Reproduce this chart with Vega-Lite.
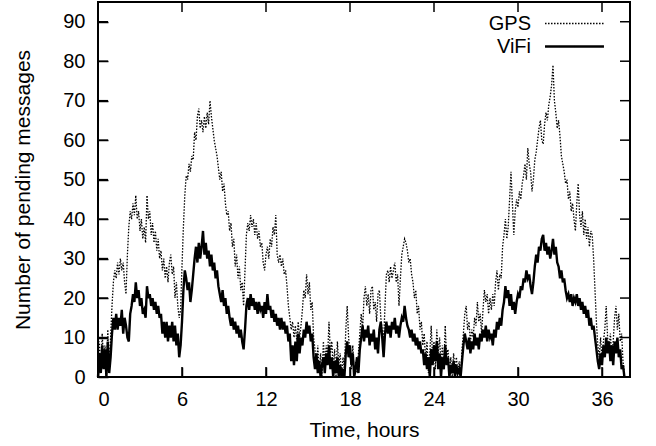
{
"$schema":"https://vega.github.io/schema/vega-lite/v6.json",
"width":532,"height":375,
"autosize":"none",
"padding":{"left":98,"top":2,"right":26,"bottom":69},
"background":"white",
"config":{"view":{"stroke":"black","strokeWidth":2},
"axis":{"grid":false,"domain":false,"labelFont":"Liberation Sans","labelFontSize":20,"labelColor":"black","titleFont":"Liberation Sans","titleFontSize":21,"titleFontWeight":"normal","titleColor":"black"},
"legend":{"labelFont":"Liberation Sans","labelFontSize":20,"labelColor":"black"}},
"layer":[
{"data":{"values":[
{"t":0.0,"GPS":2,"ViFi":0},{"t":0.1,"GPS":9,"ViFi":6},{"t":0.2,"GPS":1,"ViFi":1},{"t":0.3,"GPS":11,"ViFi":8},{"t":0.4,"GPS":4,"ViFi":2},{"t":0.5,"GPS":8,"ViFi":7},{"t":0.6,"GPS":0,"ViFi":0},{"t":0.7,"GPS":12,"ViFi":9},{"t":0.8,"GPS":3,"ViFi":1},{"t":0.9,"GPS":10,"ViFi":5},
{"t":1.0,"GPS":18,"ViFi":11},{"t":1.1,"GPS":24,"ViFi":15},{"t":1.2,"GPS":27,"ViFi":12},{"t":1.3,"GPS":25,"ViFi":16},{"t":1.4,"GPS":29,"ViFi":12},{"t":1.5,"GPS":26,"ViFi":15},{"t":1.6,"GPS":30,"ViFi":13},{"t":1.7,"GPS":27,"ViFi":17},{"t":1.8,"GPS":29,"ViFi":11},{"t":1.9,"GPS":24,"ViFi":15},
{"t":2.0,"GPS":21,"ViFi":13},{"t":2.1,"GPS":31,"ViFi":10},{"t":2.2,"GPS":38,"ViFi":9},{"t":2.3,"GPS":42,"ViFi":16},{"t":2.4,"GPS":40,"ViFi":18},{"t":2.5,"GPS":44,"ViFi":21},{"t":2.6,"GPS":41,"ViFi":19},{"t":2.7,"GPS":46,"ViFi":24},{"t":2.8,"GPS":40,"ViFi":20},{"t":2.9,"GPS":42,"ViFi":22},
{"t":3.0,"GPS":37,"ViFi":18},{"t":3.1,"GPS":40,"ViFi":20},{"t":3.2,"GPS":35,"ViFi":16},{"t":3.3,"GPS":38,"ViFi":17},{"t":3.4,"GPS":34,"ViFi":15},{"t":3.5,"GPS":46,"ViFi":23},{"t":3.6,"GPS":40,"ViFi":20},{"t":3.7,"GPS":42,"ViFi":21},{"t":3.8,"GPS":36,"ViFi":18},{"t":3.9,"GPS":39,"ViFi":20},
{"t":4.0,"GPS":34,"ViFi":17},{"t":4.1,"GPS":37,"ViFi":19},{"t":4.2,"GPS":32,"ViFi":16},{"t":4.3,"GPS":35,"ViFi":18},{"t":4.4,"GPS":30,"ViFi":15},{"t":4.5,"GPS":32,"ViFi":16},{"t":4.6,"GPS":27,"ViFi":11},{"t":4.7,"GPS":30,"ViFi":14},{"t":4.8,"GPS":25,"ViFi":10},{"t":4.9,"GPS":28,"ViFi":14},
{"t":5.0,"GPS":24,"ViFi":9},{"t":5.1,"GPS":29,"ViFi":13},{"t":5.2,"GPS":31,"ViFi":10},{"t":5.3,"GPS":26,"ViFi":14},{"t":5.4,"GPS":28,"ViFi":9},{"t":5.5,"GPS":20,"ViFi":13},{"t":5.6,"GPS":24,"ViFi":8},{"t":5.7,"GPS":18,"ViFi":11},{"t":5.8,"GPS":15,"ViFi":5},{"t":5.9,"GPS":17,"ViFi":8},
{"t":6.0,"GPS":28,"ViFi":14},{"t":6.1,"GPS":38,"ViFi":22},{"t":6.2,"GPS":46,"ViFi":27},{"t":6.3,"GPS":51,"ViFi":25},{"t":6.4,"GPS":50,"ViFi":22},{"t":6.5,"GPS":54,"ViFi":24},{"t":6.6,"GPS":52,"ViFi":19},{"t":6.7,"GPS":56,"ViFi":22},{"t":6.8,"GPS":55,"ViFi":26},{"t":6.9,"GPS":62,"ViFi":30},
{"t":7.0,"GPS":60,"ViFi":33},{"t":7.1,"GPS":66,"ViFi":29},{"t":7.2,"GPS":68,"ViFi":34},{"t":7.3,"GPS":63,"ViFi":30},{"t":7.4,"GPS":65,"ViFi":33},{"t":7.5,"GPS":62,"ViFi":37},{"t":7.6,"GPS":66,"ViFi":31},{"t":7.7,"GPS":63,"ViFi":34},{"t":7.8,"GPS":67,"ViFi":30},{"t":7.9,"GPS":64,"ViFi":32},
{"t":8.0,"GPS":70,"ViFi":28},{"t":8.1,"GPS":66,"ViFi":31},{"t":8.2,"GPS":63,"ViFi":27},{"t":8.3,"GPS":60,"ViFi":29},{"t":8.4,"GPS":58,"ViFi":25},{"t":8.5,"GPS":56,"ViFi":27},{"t":8.6,"GPS":53,"ViFi":23},{"t":8.7,"GPS":50,"ViFi":21},{"t":8.8,"GPS":52,"ViFi":19},{"t":8.9,"GPS":47,"ViFi":22},
{"t":9.0,"GPS":49,"ViFi":18},{"t":9.1,"GPS":44,"ViFi":20},{"t":9.2,"GPS":41,"ViFi":16},{"t":9.3,"GPS":42,"ViFi":18},{"t":9.4,"GPS":37,"ViFi":15},{"t":9.5,"GPS":39,"ViFi":13},{"t":9.6,"GPS":33,"ViFi":15},{"t":9.7,"GPS":35,"ViFi":12},{"t":9.8,"GPS":28,"ViFi":14},{"t":9.9,"GPS":31,"ViFi":11},
{"t":10.0,"GPS":25,"ViFi":13},{"t":10.1,"GPS":28,"ViFi":10},{"t":10.2,"GPS":22,"ViFi":12},{"t":10.3,"GPS":24,"ViFi":9},{"t":10.4,"GPS":18,"ViFi":7},{"t":10.5,"GPS":27,"ViFi":12},{"t":10.6,"GPS":36,"ViFi":18},{"t":10.7,"GPS":39,"ViFi":20},{"t":10.8,"GPS":37,"ViFi":17},{"t":10.9,"GPS":41,"ViFi":21},
{"t":11.0,"GPS":38,"ViFi":18},{"t":11.1,"GPS":40,"ViFi":20},{"t":11.2,"GPS":36,"ViFi":17},{"t":11.3,"GPS":39,"ViFi":19},{"t":11.4,"GPS":35,"ViFi":16},{"t":11.5,"GPS":37,"ViFi":19},{"t":11.6,"GPS":33,"ViFi":17},{"t":11.7,"GPS":34,"ViFi":18},{"t":11.8,"GPS":29,"ViFi":15},{"t":11.9,"GPS":27,"ViFi":19},
{"t":12.0,"GPS":31,"ViFi":16},{"t":12.1,"GPS":33,"ViFi":21},{"t":12.2,"GPS":30,"ViFi":17},{"t":12.3,"GPS":35,"ViFi":18},{"t":12.4,"GPS":33,"ViFi":15},{"t":12.5,"GPS":38,"ViFi":17},{"t":12.6,"GPS":36,"ViFi":14},{"t":12.7,"GPS":41,"ViFi":16},{"t":12.8,"GPS":31,"ViFi":13},{"t":12.9,"GPS":29,"ViFi":15},
{"t":13.0,"GPS":31,"ViFi":12},{"t":13.1,"GPS":28,"ViFi":15},{"t":13.2,"GPS":30,"ViFi":12},{"t":13.3,"GPS":26,"ViFi":14},{"t":13.4,"GPS":27,"ViFi":11},{"t":13.5,"GPS":23,"ViFi":13},{"t":13.6,"GPS":18,"ViFi":9},{"t":13.7,"GPS":15,"ViFi":11},{"t":13.8,"GPS":12,"ViFi":4},{"t":13.9,"GPS":14,"ViFi":8},
{"t":14.0,"GPS":10,"ViFi":3},{"t":14.1,"GPS":13,"ViFi":9},{"t":14.2,"GPS":9,"ViFi":4},{"t":14.3,"GPS":14,"ViFi":11},{"t":14.4,"GPS":10,"ViFi":6},{"t":14.5,"GPS":13,"ViFi":10},{"t":14.6,"GPS":17,"ViFi":8},{"t":14.7,"GPS":22,"ViFi":12},{"t":14.8,"GPS":20,"ViFi":10},{"t":14.9,"GPS":26,"ViFi":14},
{"t":15.0,"GPS":21,"ViFi":11},{"t":15.1,"GPS":24,"ViFi":13},{"t":15.2,"GPS":17,"ViFi":9},{"t":15.3,"GPS":19,"ViFi":11},{"t":15.4,"GPS":10,"ViFi":5},{"t":15.5,"GPS":7,"ViFi":2},{"t":15.6,"GPS":2,"ViFi":6},{"t":15.7,"GPS":8,"ViFi":1},{"t":15.8,"GPS":1,"ViFi":4},{"t":15.9,"GPS":6,"ViFi":0},
{"t":16.0,"GPS":0,"ViFi":3},{"t":16.1,"GPS":9,"ViFi":5},{"t":16.2,"GPS":3,"ViFi":1},{"t":16.3,"GPS":8,"ViFi":6},{"t":16.4,"GPS":5,"ViFi":3},{"t":16.5,"GPS":14,"ViFi":8},{"t":16.6,"GPS":6,"ViFi":2},{"t":16.7,"GPS":9,"ViFi":5},{"t":16.8,"GPS":2,"ViFi":0},{"t":16.9,"GPS":7,"ViFi":4},
{"t":17.0,"GPS":0,"ViFi":1},{"t":17.1,"GPS":9,"ViFi":5},{"t":17.2,"GPS":3,"ViFi":0},{"t":17.3,"GPS":6,"ViFi":3},{"t":17.4,"GPS":0,"ViFi":0},{"t":17.5,"GPS":5,"ViFi":2},{"t":17.6,"GPS":2,"ViFi":0},{"t":17.7,"GPS":12,"ViFi":6},{"t":17.8,"GPS":18,"ViFi":9},{"t":17.9,"GPS":10,"ViFi":5},
{"t":18.0,"GPS":6,"ViFi":8},{"t":18.1,"GPS":2,"ViFi":3},{"t":18.2,"GPS":8,"ViFi":6},{"t":18.3,"GPS":0,"ViFi":0},{"t":18.4,"GPS":4,"ViFi":2},{"t":18.5,"GPS":1,"ViFi":5},{"t":18.6,"GPS":6,"ViFi":1},{"t":18.7,"GPS":11,"ViFi":7},{"t":18.8,"GPS":16,"ViFi":10},{"t":18.9,"GPS":12,"ViFi":13},
{"t":19.0,"GPS":20,"ViFi":9},{"t":19.1,"GPS":23,"ViFi":12},{"t":19.2,"GPS":18,"ViFi":10},{"t":19.3,"GPS":21,"ViFi":13},{"t":19.4,"GPS":16,"ViFi":8},{"t":19.5,"GPS":22,"ViFi":11},{"t":19.6,"GPS":23,"ViFi":9},{"t":19.7,"GPS":17,"ViFi":12},{"t":19.8,"GPS":19,"ViFi":7},{"t":19.9,"GPS":14,"ViFi":10},
{"t":20.0,"GPS":21,"ViFi":6},{"t":20.1,"GPS":22,"ViFi":12},{"t":20.2,"GPS":15,"ViFi":14},{"t":20.3,"GPS":12,"ViFi":10},{"t":20.4,"GPS":9,"ViFi":5},{"t":20.5,"GPS":18,"ViFi":11},{"t":20.6,"GPS":26,"ViFi":14},{"t":20.7,"GPS":27,"ViFi":11},{"t":20.8,"GPS":24,"ViFi":13},{"t":20.9,"GPS":28,"ViFi":10},
{"t":21.0,"GPS":25,"ViFi":14},{"t":21.1,"GPS":27,"ViFi":12},{"t":21.2,"GPS":29,"ViFi":15},{"t":21.3,"GPS":24,"ViFi":11},{"t":21.4,"GPS":26,"ViFi":13},{"t":21.5,"GPS":18,"ViFi":10},{"t":21.6,"GPS":25,"ViFi":13},{"t":21.7,"GPS":31,"ViFi":15},{"t":21.8,"GPS":33,"ViFi":14},{"t":21.9,"GPS":35,"ViFi":18},
{"t":22.0,"GPS":34,"ViFi":15},{"t":22.1,"GPS":32,"ViFi":13},{"t":22.2,"GPS":29,"ViFi":12},{"t":22.3,"GPS":30,"ViFi":10},{"t":22.4,"GPS":26,"ViFi":12},{"t":22.5,"GPS":24,"ViFi":9},{"t":22.6,"GPS":20,"ViFi":11},{"t":22.7,"GPS":22,"ViFi":8},{"t":22.8,"GPS":16,"ViFi":10},{"t":22.9,"GPS":18,"ViFi":7},
{"t":23.0,"GPS":12,"ViFi":9},{"t":23.1,"GPS":14,"ViFi":6},{"t":23.2,"GPS":8,"ViFi":7},{"t":23.3,"GPS":11,"ViFi":3},{"t":23.4,"GPS":4,"ViFi":6},{"t":23.5,"GPS":9,"ViFi":2},{"t":23.6,"GPS":1,"ViFi":5},{"t":23.7,"GPS":6,"ViFi":0},{"t":23.8,"GPS":13,"ViFi":7},{"t":23.9,"GPS":5,"ViFi":3},
{"t":24.0,"GPS":9,"ViFi":8},{"t":24.1,"GPS":2,"ViFi":4},{"t":24.2,"GPS":12,"ViFi":9},{"t":24.3,"GPS":6,"ViFi":2},{"t":24.4,"GPS":10,"ViFi":6},{"t":24.5,"GPS":3,"ViFi":0},{"t":24.6,"GPS":8,"ViFi":5},{"t":24.7,"GPS":2,"ViFi":2},{"t":24.8,"GPS":13,"ViFi":8},{"t":24.9,"GPS":5,"ViFi":3},
{"t":25.0,"GPS":7,"ViFi":5},{"t":25.1,"GPS":1,"ViFi":0},{"t":25.2,"GPS":5,"ViFi":3},{"t":25.3,"GPS":0,"ViFi":1},{"t":25.4,"GPS":6,"ViFi":4},{"t":25.5,"GPS":2,"ViFi":0},{"t":25.6,"GPS":5,"ViFi":3},{"t":25.7,"GPS":1,"ViFi":1},{"t":25.8,"GPS":4,"ViFi":2},{"t":25.9,"GPS":0,"ViFi":0},
{"t":26.0,"GPS":7,"ViFi":4},{"t":26.1,"GPS":11,"ViFi":8},{"t":26.2,"GPS":16,"ViFi":11},{"t":26.3,"GPS":18,"ViFi":9},{"t":26.4,"GPS":12,"ViFi":7},{"t":26.5,"GPS":14,"ViFi":10},{"t":26.6,"GPS":9,"ViFi":6},{"t":26.7,"GPS":12,"ViFi":9},{"t":26.8,"GPS":10,"ViFi":7},{"t":26.9,"GPS":15,"ViFi":11},
{"t":27.0,"GPS":13,"ViFi":8},{"t":27.1,"GPS":19,"ViFi":10},{"t":27.2,"GPS":14,"ViFi":7},{"t":27.3,"GPS":16,"ViFi":11},{"t":27.4,"GPS":11,"ViFi":9},{"t":27.5,"GPS":17,"ViFi":12},{"t":27.6,"GPS":22,"ViFi":10},{"t":27.7,"GPS":19,"ViFi":13},{"t":27.8,"GPS":21,"ViFi":9},{"t":27.9,"GPS":16,"ViFi":12},
{"t":28.0,"GPS":20,"ViFi":10},{"t":28.1,"GPS":17,"ViFi":11},{"t":28.2,"GPS":21,"ViFi":8},{"t":28.3,"GPS":18,"ViFi":12},{"t":28.4,"GPS":24,"ViFi":10},{"t":28.5,"GPS":27,"ViFi":14},{"t":28.6,"GPS":22,"ViFi":12},{"t":28.7,"GPS":26,"ViFi":15},{"t":28.8,"GPS":25,"ViFi":13},{"t":28.9,"GPS":33,"ViFi":17},
{"t":29.0,"GPS":36,"ViFi":19},{"t":29.1,"GPS":40,"ViFi":23},{"t":29.2,"GPS":35,"ViFi":20},{"t":29.3,"GPS":38,"ViFi":22},{"t":29.4,"GPS":45,"ViFi":18},{"t":29.5,"GPS":52,"ViFi":21},{"t":29.6,"GPS":44,"ViFi":17},{"t":29.7,"GPS":36,"ViFi":19},{"t":29.8,"GPS":42,"ViFi":16},{"t":29.9,"GPS":45,"ViFi":19},
{"t":30.0,"GPS":43,"ViFi":21},{"t":30.1,"GPS":47,"ViFi":20},{"t":30.2,"GPS":45,"ViFi":23},{"t":30.3,"GPS":49,"ViFi":22},{"t":30.4,"GPS":51,"ViFi":25},{"t":30.5,"GPS":54,"ViFi":24},{"t":30.6,"GPS":50,"ViFi":27},{"t":30.7,"GPS":58,"ViFi":25},{"t":30.8,"GPS":54,"ViFi":26},{"t":30.9,"GPS":52,"ViFi":23},
{"t":31.0,"GPS":47,"ViFi":21},{"t":31.1,"GPS":50,"ViFi":24},{"t":31.2,"GPS":55,"ViFi":28},{"t":31.3,"GPS":57,"ViFi":31},{"t":31.4,"GPS":60,"ViFi":29},{"t":31.5,"GPS":63,"ViFi":33},{"t":31.6,"GPS":65,"ViFi":32},{"t":31.7,"GPS":60,"ViFi":35},{"t":31.8,"GPS":59,"ViFi":36},{"t":31.9,"GPS":64,"ViFi":32},
{"t":32.0,"GPS":67,"ViFi":34},{"t":32.1,"GPS":65,"ViFi":31},{"t":32.2,"GPS":69,"ViFi":33},{"t":32.3,"GPS":71,"ViFi":30},{"t":32.4,"GPS":74,"ViFi":32},{"t":32.5,"GPS":79,"ViFi":35},{"t":32.6,"GPS":70,"ViFi":31},{"t":32.7,"GPS":67,"ViFi":33},{"t":32.8,"GPS":63,"ViFi":29},{"t":32.9,"GPS":65,"ViFi":28},
{"t":33.0,"GPS":61,"ViFi":25},{"t":33.1,"GPS":56,"ViFi":27},{"t":33.2,"GPS":54,"ViFi":24},{"t":33.3,"GPS":52,"ViFi":25},{"t":33.4,"GPS":49,"ViFi":22},{"t":33.5,"GPS":50,"ViFi":20},{"t":33.6,"GPS":45,"ViFi":21},{"t":33.7,"GPS":47,"ViFi":19},{"t":33.8,"GPS":42,"ViFi":21},{"t":33.9,"GPS":44,"ViFi":18},
{"t":34.0,"GPS":40,"ViFi":20},{"t":34.1,"GPS":37,"ViFi":19},{"t":34.2,"GPS":44,"ViFi":21},{"t":34.3,"GPS":49,"ViFi":18},{"t":34.4,"GPS":41,"ViFi":20},{"t":34.5,"GPS":38,"ViFi":17},{"t":34.6,"GPS":42,"ViFi":19},{"t":34.7,"GPS":36,"ViFi":16},{"t":34.8,"GPS":40,"ViFi":18},{"t":34.9,"GPS":35,"ViFi":15},
{"t":35.0,"GPS":38,"ViFi":17},{"t":35.1,"GPS":33,"ViFi":13},{"t":35.2,"GPS":37,"ViFi":15},{"t":35.3,"GPS":36,"ViFi":12},{"t":35.4,"GPS":30,"ViFi":13},{"t":35.5,"GPS":22,"ViFi":10},{"t":35.6,"GPS":14,"ViFi":7},{"t":35.7,"GPS":8,"ViFi":4},{"t":35.8,"GPS":5,"ViFi":2},{"t":35.9,"GPS":10,"ViFi":6},
{"t":36.0,"GPS":4,"ViFi":3},{"t":36.1,"GPS":9,"ViFi":8},{"t":36.2,"GPS":12,"ViFi":5},{"t":36.3,"GPS":18,"ViFi":10},{"t":36.4,"GPS":10,"ViFi":6},{"t":36.5,"GPS":7,"ViFi":9},{"t":36.6,"GPS":11,"ViFi":4},{"t":36.7,"GPS":5,"ViFi":8},{"t":36.8,"GPS":9,"ViFi":3},{"t":36.9,"GPS":15,"ViFi":9},
{"t":37.0,"GPS":18,"ViFi":6},{"t":37.1,"GPS":12,"ViFi":10},{"t":37.2,"GPS":16,"ViFi":5},{"t":37.3,"GPS":9,"ViFi":7},{"t":37.4,"GPS":11,"ViFi":2},{"t":37.5,"GPS":4,"ViFi":3},{"t":37.6,"GPS":1,"ViFi":0}
]},
"transform":[{"fold":["GPS","ViFi"],"as":["series","count"]}],
"mark":{"type":"line","color":"black","interpolate":"linear"},
"encoding":{
"x":{"field":"t","type":"quantitative","scale":{"domain":[0,38],"nice":false,"zero":false},
"axis":{"orient":"bottom","values":[0,6,12,18,24,30,36],"ticks":true,"tickColor":"#000000","tickOpacity":1,"tickSize":-10,"tickWidth":1.5,"labelPadding":22,"title":"Time, hours","titlePadding":10}},
"y":{"field":"count","type":"quantitative","scale":{"domain":[0,95],"nice":false},
"axis":{"orient":"left","values":[0,10,20,30,40,50,60,70,80,90],"ticks":true,"tickColor":"#000000","tickOpacity":1,"tickSize":-10,"tickWidth":1.5,"labelPadding":23,"title":"Number of pending messages","titlePadding":29}},
"detail":{"field":"series","type":"nominal"},
"strokeDash":{"field":"series","type":"nominal","scale":{"domain":["GPS","ViFi"],"range":[[1.5,1.5],[1,0]]},
"legend":{"orient":"none","legendX":465,"legendY":11,"title":null,"symbolType":"M-3,0H3","symbolSize":386,"symbolStrokeColor":"black","symbolStrokeWidth":1.3,"labelAlign":"right","labelOffset":-55,"rowPadding":1,"padding":0}},
"strokeWidth":{"field":"series","type":"nominal","scale":{"domain":["GPS","ViFi"],"range":[1.3,2.4]},"legend":null}}},
{"data":{"values":[{"v":0},{"v":6},{"v":12},{"v":18},{"v":24},{"v":30},{"v":36}]},
"mark":{"type":"rule","color":"black","strokeWidth":1.5},
"encoding":{"x":{"field":"v","type":"quantitative"},"y":{"datum":0},"y2":{"datum":2.53}}},
{"data":{"values":[{"v":0},{"v":6},{"v":12},{"v":18},{"v":24},{"v":30},{"v":36}]},
"mark":{"type":"rule","color":"black","strokeWidth":1.5},
"encoding":{"x":{"field":"v","type":"quantitative"},"y":{"datum":92.47},"y2":{"datum":95}}},
{"data":{"values":[{"v":0},{"v":10},{"v":20},{"v":30},{"v":40},{"v":50},{"v":60},{"v":70},{"v":80},{"v":90}]},
"mark":{"type":"rule","color":"black","strokeWidth":1.5},
"encoding":{"y":{"field":"v","type":"quantitative"},"x":{"datum":0},"x2":{"datum":0.715}}},
{"data":{"values":[{"v":0},{"v":10},{"v":20},{"v":30},{"v":40},{"v":50},{"v":60},{"v":70},{"v":80},{"v":90}]},
"mark":{"type":"rule","color":"black","strokeWidth":1.5},
"encoding":{"y":{"field":"v","type":"quantitative"},"x":{"datum":37.285},"x2":{"datum":38}}}
]
}
